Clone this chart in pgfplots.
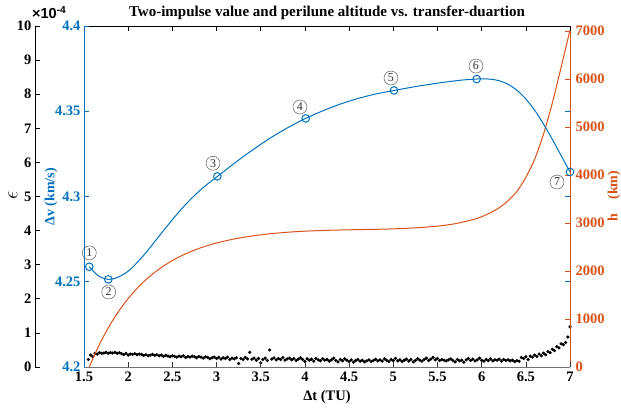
\documentclass[border=0pt]{standalone}
\usepackage{pgfplots}
\pgfplotsset{compat=1.18}
\usepackage{fontspec}
\setmainfont{Liberation Serif}
\setsansfont{Liberation Sans}
\definecolor{mblue}{RGB}{0,114,189}
\definecolor{morange}{RGB}{217,83,25}
\pgfplotsset{
  base/.style={scale only axis, width=486pt, height=341pt, at={(0pt,0pt)}, anchor=south west,
    xmin=1.5, xmax=7, tick align=inside, major tick length=5pt,
    ticklabel style={font=\bfseries\fontsize{14.5}{14.5}\selectfont},
    every axis plot/.append style={line width=1pt}}
}
\tikzset{
  circ/.style={circle, draw=black!75, line width=0.4pt, inner sep=0pt, minimum size=14pt,
    font=\fontsize{12}{12}\selectfont, text=black!80}
}
\pgfplotstableread{
x e
1.550 0.22
1.575 0.35
1.600 0.30
1.625 0.40
1.650 0.38
1.675 0.42
1.700 0.40
1.725 0.41
1.750 0.43
1.775 0.40
1.800 0.42
1.825 0.41
1.850 0.43
1.875 0.40
1.900 0.42
1.925 0.39
1.950 0.36
1.975 0.40
2.000 0.35
2.025 0.38
2.050 0.37
2.075 0.39
2.100 0.36
2.125 0.38
2.150 0.37
2.175 0.34
2.200 0.36
2.225 0.33
2.250 0.35
2.275 0.37
2.300 0.34
2.325 0.36
2.350 0.33
2.375 0.35
2.400 0.31
2.425 0.34
2.450 0.32
2.475 0.30
2.500 0.33
2.525 0.31
2.550 0.29
2.575 0.32
2.600 0.30
2.625 0.33
2.650 0.28
2.675 0.31
2.700 0.29
2.725 0.32
2.750 0.30
2.775 0.27
2.800 0.31
2.825 0.29
2.850 0.26
2.875 0.30
2.900 0.28
2.925 0.24
2.950 0.27
2.975 0.29
3.000 0.25
3.025 0.28
3.050 0.23
3.075 0.27
3.100 0.25
3.125 0.29
3.150 0.22
3.175 0.26
3.200 0.24
3.225 0.27
3.250 0.10
3.275 0.25
3.300 0.22
3.325 0.28
3.350 0.24
3.375 0.43
3.400 0.23
3.425 0.26
3.450 0.20
3.475 0.25
3.500 0.12
3.525 0.22
3.550 0.26
3.575 0.19
3.600 0.50
3.625 0.23
3.650 0.27
3.675 0.21
3.700 0.25
3.725 0.22
3.750 0.28
3.775 0.20
3.800 0.24
3.825 0.26
3.850 0.21
3.875 0.25
3.900 0.19
3.925 0.23
3.950 0.27
3.975 0.22
4.000 0.16
4.025 0.24
4.050 0.20
4.075 0.23
4.100 0.17
4.125 0.25
4.150 0.21
4.175 0.18
4.200 0.24
4.225 0.20
4.250 0.22
4.275 0.17
4.300 0.21
4.325 0.26
4.350 0.19
4.375 0.15
4.400 0.22
4.425 0.18
4.450 0.24
4.475 0.20
4.500 0.16
4.525 0.21
4.550 0.14
4.575 0.19
4.600 0.22
4.625 0.17
4.650 0.20
4.675 0.15
4.700 0.18
4.725 0.21
4.750 0.16
4.775 0.19
4.800 0.23
4.825 0.18
4.850 0.21
4.875 0.17
4.900 0.24
4.925 0.20
4.950 0.16
4.975 0.22
5.000 0.19
5.025 0.25
5.050 0.18
5.075 0.21
5.100 0.16
5.125 0.20
5.150 0.23
5.175 0.17
5.200 0.22
5.225 0.15
5.250 0.19
5.275 0.24
5.300 0.20
5.325 0.17
5.350 0.22
5.375 0.26
5.400 0.19
5.425 0.23
5.450 0.28
5.475 0.21
5.500 0.25
5.525 0.19
5.550 0.22
5.575 0.20
5.600 0.18
5.625 0.21
5.650 0.24
5.675 0.19
5.700 0.15
5.725 0.22
5.750 0.18
5.775 0.20
5.800 0.14
5.825 0.21
5.850 0.25
5.875 0.19
5.900 0.23
5.925 0.18
5.950 0.21
5.975 0.26
6.000 0.20
6.025 0.17
6.050 0.22
6.075 0.19
6.100 0.24
6.125 0.18
6.150 0.21
6.175 0.20
6.200 0.23
6.225 0.17
6.250 0.22
6.275 0.19
6.300 0.21
6.325 0.18
6.350 0.20
6.375 0.16
6.400 0.19
6.425 0.17
6.450 0.28
6.475 0.25
6.500 0.30
6.525 0.22
6.550 0.32
6.575 0.29
6.600 0.35
6.625 0.31
6.650 0.38
6.675 0.33
6.700 0.41
6.725 0.36
6.750 0.45
6.775 0.42
6.800 0.52
6.825 0.48
6.850 0.60
6.875 0.56
6.900 0.68
6.925 0.65
6.950 0.72
6.975 0.88
7.000 1.18
}\epsdata
\pgfplotstableread{
x dv
1.560 4.2588
1.600 4.2565
1.650 4.2540
1.700 4.2524
1.775 4.2514
1.850 4.2520
1.900 4.2530
2.000 4.2562
2.100 4.2612
2.200 4.2670
2.300 4.2735
2.400 4.2800
2.500 4.2864
2.600 4.2925
2.700 4.2980
2.800 4.3030
2.900 4.3074
3.000 4.3114
3.100 4.3154
3.200 4.3194
3.300 4.3233
3.400 4.3270
3.500 4.3306
3.600 4.3340
3.700 4.3372
3.800 4.3402
3.900 4.3430
4.000 4.3456
4.200 4.3502
4.400 4.3542
4.600 4.3575
4.800 4.3601
5.000 4.3621
5.200 4.3640
5.400 4.3657
5.600 4.3672
5.800 4.3684
5.944 4.3689
6.000 4.3690
6.100 4.3688
6.200 4.3679
6.300 4.3658
6.400 4.3623
6.500 4.3572
6.600 4.3506
6.700 4.3425
6.800 4.3335
6.900 4.3240
7.000 4.3144
}\dvdata
\pgfplotstableread{
x dv
1.560 4.2588
1.775 4.2514
3.009 4.3118
4.009 4.3458
5.008 4.3622
5.944 4.3689
7.000 4.3144
}\dvmarks
\pgfplotstableread{
x h
1.560 0
1.600 173
1.650 375
1.700 562
1.750 735
1.800 895
1.850 1044
1.900 1181
1.950 1308
2.000 1426
2.100 1636
2.200 1817
2.300 1971
2.400 2104
2.500 2217
2.600 2315
2.700 2398
2.800 2470
2.900 2531
3.000 2584
3.200 2667
3.400 2729
3.600 2774
3.800 2807
4.000 2830
4.300 2850
4.600 2862
4.900 2872
5.100 2885
5.300 2905
5.500 2935
5.700 2985
5.900 3070
6.000 3130
6.100 3215
6.200 3320
6.300 3465
6.400 3660
6.500 3950
6.600 4330
6.700 4850
6.800 5500
6.900 6250
7.000 7020
}\hdata
\begin{document}
\begin{tikzpicture}
\useasboundingbox (-84pt,-43pt) rectangle (537pt,367pt);
% epsilon axis (offset left)
\begin{axis}[base, width=535pt, at={(-49pt,0pt)}, xmin=0.945455, xmax=7,
  ymin=0, ymax=10, axis x line=none, axis y line*=left,
  ytick={0,1,2,3,4,5,6,7,8,9,10}, yticklabels={0,1,2,3,4,5,6,7,8,9,10},
  y axis line style={black, line width=0.7pt}, ytick style={black, line width=0.7pt}]
\addplot[only marks, mark=*, mark size=1.05pt, black] table[x=x, y=e] {\epsdata};
\end{axis}
% h axis (right)
\begin{axis}[base, ymin=0, ymax=7104, axis x line=none, axis y line*=right,
  ytick={0,1000,2000,3000,4000,5000,6000,7000},
  yticklabels={0,1000,2000,3000,4000,5000,6000,7000},
  y axis line style={morange, line width=0.7pt}, ytick style={morange, line width=0.7pt},
  yticklabel style={text=morange, xshift=2pt}]
\addplot[morange, smooth] table[x=x, y=h] {\hdata};
\end{axis}
% top line and right blue ticks
\begin{axis}[base, ymin=4.2, ymax=4.4, axis x line*=top, axis y line*=right,
  xtick={1.5,2,2.5,3,3.5,4,4.5,5,5.5,6,6.5,7}, xticklabels={},
  ytick={4.2,4.25,4.3,4.35,4.4}, yticklabels={},
  x axis line style={black, line width=0.7pt}, xtick style={black, line width=0.6pt},
  y axis line style={draw=none}, ytick style={mblue, line width=0.7pt}]
\end{axis}
% main dv axis
\begin{axis}[base, ymin=4.2, ymax=4.4, axis x line*=bottom, axis y line*=left,
  xtick={1.5,2,2.5,3,3.5,4,4.5,5,5.5,6,6.5,7},
  xticklabels={1.5,2,2.5,3,3.5,4,4.5,5,5.5,6,6.5,7},
  xticklabel style={yshift=-1pt},
  ytick={4.2,4.25,4.3,4.35,4.4}, yticklabels={4.2,4.25,4.3,4.35,4.4},
  x axis line style={black!55, line width=1pt}, xtick style={black!80, line width=0.6pt},
  y axis line style={mblue, line width=0.7pt}, ytick style={mblue, line width=0.7pt},
  yticklabel style={text=mblue}, clip=false]
\addplot[mblue, smooth] table[x=x, y=dv] {\dvdata};
\addplot[mblue, only marks, mark=o, mark size=3.8pt, mark options={line width=1pt}] table[x=x, y=dv] {\dvmarks};
\node[circ] at (axis cs:1.56,4.2669) {1};
\node[circ] at (axis cs:1.78,4.2440) {2};
\node[circ] at (axis cs:2.96,4.3195) {3};
\node[circ] at (axis cs:3.944,4.3525) {4};
\node[circ] at (axis cs:4.974,4.3695) {5};
\node[circ] at (axis cs:5.936,4.3765) {6};
\node[circ] at (axis cs:6.853,4.3085) {7};
\end{axis}
% labels
\node[font=\bfseries\fontsize{15}{15}\selectfont] at (243pt,354pt) {Two-impulse value and perilune altitude vs. transfer-duartion};
\node[font=\bfseries\fontsize{14.5}{14.5}\selectfont] at (243pt,-30pt) {Δt (TU)};
\node[font=\bfseries\fontsize{14}{14}\selectfont, text=mblue, rotate=90] at (-33pt,170pt) {Δv (km/s)};
\node[font=\fontsize{20}{20}\selectfont, rotate=90] at (-71pt,172pt) {$\epsilon$};
\node[font=\bfseries\fontsize{14}{14}\selectfont, text=morange, rotate=90] at (530pt,171pt) {h\hspace{14pt}(km)};
\node[font=\sffamily\bfseries\fontsize{14.5}{14.5}\selectfont, anchor=south west, inner sep=0pt] at (-52pt,348pt) {×10\textsuperscript{-4}};
\end{tikzpicture}
\end{document}
